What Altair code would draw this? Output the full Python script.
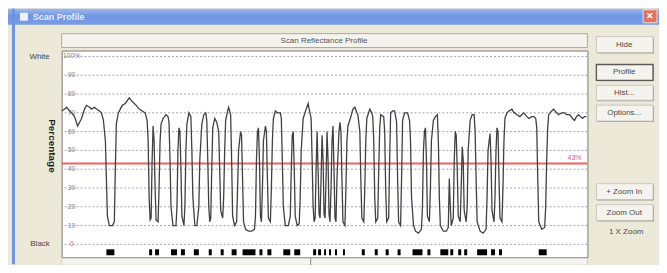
import altair as alt
import pandas as pd

# ---------------- data ----------------
# scan position (screen-pixel units of the original plot) and reflectance in %
pos = [62, 65, 67, 70, 72, 75, 78, 80, 82, 85, 87, 90, 92, 95, 97, 100, 102, 104, 106, 107, 108, 110, 113, 115, 116, 117,
       119, 121, 123, 126, 130, 133, 137, 140, 143, 146, 148, 149, 150, 151, 152, 153, 154, 155, 156, 157, 159, 160, 161,
       162, 164, 167, 169, 170, 171, 172, 174, 177, 178, 179, 180, 181, 182, 183, 185, 186, 187, 188, 190, 192, 193, 194,
       196, 198, 200, 201, 203, 205, 207, 208, 209, 210, 211, 212, 213, 214, 216, 218, 220, 221, 222, 224, 225, 226, 227,
       229, 230, 232, 233, 234, 236, 238, 239, 240, 242, 243, 244, 245, 247, 250, 253, 256, 257, 258, 259, 260, 261, 262,
       263, 264, 265, 267, 268, 269, 270, 272, 273, 274, 275, 277, 279, 282, 283, 284, 285, 287, 290, 292, 293, 294, 295,
       296, 297, 299, 301, 302, 303, 305, 308, 310, 311, 313, 314, 315, 316, 317, 318, 319, 320, 321, 322, 323, 324, 325,
       326, 327, 328, 329, 330, 331, 332, 333, 334, 335, 336, 337, 338, 339, 341, 342, 343, 344, 345, 347, 348, 349, 350,
       353, 355, 357, 359, 360, 362, 363, 364, 366, 367, 368, 369, 372, 374, 375, 376, 377, 378, 380, 381, 382, 383, 386,
       387, 388, 389, 391, 392, 393, 395, 397, 399, 400, 401, 403, 404, 405, 407, 410, 412, 413, 414, 416, 418, 421, 424,
       425, 426, 427, 428, 429, 430, 432, 433, 434, 436, 438, 440, 441, 442, 443, 446, 449, 451, 452, 453, 454, 456, 457,
       458, 459, 460, 461, 463, 464, 465, 466, 467, 469, 470, 471, 473, 475, 477, 478, 479, 480, 483, 486, 489, 490, 491,
       493, 494, 495, 497, 498, 499, 500, 501, 502, 503, 505, 506, 507, 508, 510, 512, 515, 517, 518, 520, 523, 525, 527,
       530, 532, 535, 537, 539, 540, 541, 542, 545, 548, 549, 550, 551, 552, 555, 557, 560, 562, 565, 568, 570, 573, 576,
       578, 580, 582, 584, 586, 588, 590]
refl = [71, 72, 73, 71, 70, 68, 63, 65, 67, 72, 74, 73, 72, 73, 72, 71, 70, 66, 55, 35, 15, 10, 10, 12, 40, 64,
        70, 72, 74, 75, 78, 76, 74, 72, 71, 70, 66, 55, 25, 13, 14, 45, 63, 55, 30, 13, 12, 30, 55,
        64, 67, 69, 68, 65, 45, 20, 10, 10, 20, 50, 62, 60, 40, 15, 10, 20, 50, 64, 70, 68, 50, 25,
        10, 10, 20, 45, 64, 69, 70, 66, 45, 20, 12, 14, 40, 62, 67, 65, 60, 40, 18, 14, 25, 50, 66,
        71, 73, 69, 45, 15, 10, 12, 30, 50, 60, 58, 35, 12, 8, 7, 7, 8, 15, 45, 60, 62, 45, 15,
        12, 30, 55, 63, 60, 35, 14, 12, 30, 55, 67, 71, 70, 70, 67, 45, 20, 10, 10, 15, 40, 58, 60,
        40, 15, 10, 11, 25, 50, 67, 72, 75, 72, 67, 45, 20, 12, 14, 40, 60, 40, 16, 14, 35, 58, 45,
        16, 14, 35, 60, 45, 16, 12, 30, 55, 63, 40, 14, 12, 35, 60, 65, 60, 35, 12, 10, 30, 55, 63,
        68, 72, 73, 70, 69, 60, 35, 14, 12, 30, 55, 67, 72, 70, 68, 55, 25, 12, 14, 40, 62, 69, 68,
        60, 30, 12, 14, 45, 70, 71, 71, 65, 35, 12, 10, 35, 66, 70, 70, 66, 55, 25, 10, 7, 6, 8,
        20, 50, 60, 62, 45, 15, 12, 30, 55, 66, 68, 69, 55, 25, 10, 7, 7, 9, 35, 20, 10, 14, 45,
        60, 58, 40, 15, 12, 30, 52, 45, 18, 12, 20, 50, 66, 69, 69, 60, 35, 12, 7, 6, 8, 25, 50,
        59, 45, 18, 12, 25, 50, 62, 60, 35, 14, 12, 30, 55, 67, 70, 71, 72, 70, 70, 69, 68, 69, 70,
        68, 67, 68, 68, 67, 62, 35, 12, 8, 9, 20, 45, 62, 69, 71, 72, 70, 69, 70, 70, 69, 69, 67,
        66, 68, 69, 68, 67, 68, 68]

# decoded bar (dark element) spans shown under the profile
bar_start = [107, 150, 156, 172, 182, 195, 210, 222, 233, 244, 261, 269, 285, 296, 315, 320, 326, 331, 337, 345,
             364, 377, 388, 400, 415, 430, 443, 453, 461, 467, 480, 494, 502, 542]
bar_end = [115, 153, 160, 178, 186, 200, 213, 225, 238, 257, 264, 273, 292, 302, 318, 323, 328, 333, 339, 347,
           367, 380, 391, 403, 425, 433, 451, 456, 464, 470, 490, 498, 505, 550]

grid_values = [100, 90, 80, 70, 60, 50, 40, 30, 20, 10, 0]
grid_labels = ["100%", "90", "80", "70", "60", "50", "40", "30", "20", "10", "0"]
threshold = [43]
threshold_text = ["43%"]
button_labels = ["Hide", "Profile", "Hist...", "Options...", "+ Zoom In", "Zoom Out"]

# ---------------- layout ----------------
OX, OY = 62, 50          # screen position of the plot area
W, H = 529, 208
FONT = "Liberation Sans"

xs = alt.Scale(domain=[62, 591], nice=False, zero=False)
ys = alt.Scale(domain=[-6.88, 103.17], nice=False, zero=False)

one = pd.DataFrame({"k": [0]})


def box(x1, y1, x2, y2, **kw):
    return alt.Chart(one).mark_rect(**kw).encode(
        x=alt.value(x1 - OX), x2=alt.value(x2 - OX), y=alt.value(y1 - OY), y2=alt.value(y2 - OY))


def label(t, x, y, **kw):
    base = dict(font=FONT, fontSize=8, fill="#333333", align="center", baseline="middle")
    base.update(kw)
    return alt.Chart(one).mark_text(text=t, **base).encode(x=alt.value(x - OX), y=alt.value(y - OY))


layers = []
# window chrome
layers.append(box(8, 8, 663, 24, fill=alt.Gradient(gradient="linear", x1=0, x2=0, y1=0, y2=1,
                                                    stops=[alt.GradientStop(color="#9DB8EE", offset=0),
                                                           alt.GradientStop(color="#6F95E4", offset=0.45),
                                                           alt.GradientStop(color="#7A9DE6", offset=1)])))
layers.append(box(12, 8, 15, 265, fill="#6D92E2"))
layers.append(box(647, 9, 661, 22, fill="#DE7460", stroke="#F4F4F4", strokeWidth=0.8))
layers.append(label("✕", 654, 15.5, fill="white", fontSize=9, fontWeight="bold"))
layers.append(box(20, 12, 28, 20, fill="#EEF2FA"))
layers.append(label("Scan Profile", 33, 16, fill="#E8EEFC", fontSize=9, fontWeight="bold", align="left"))

# header strip
layers.append(box(62, 33, 591, 47, fill="#F4F3EE", stroke="#A8A8A0", strokeWidth=1))
layers.append(label("Scan Reflectance Profile", 326, 40, fill="#555555"))

# buttons
btn_y = [(36, 52), (64, 80), (85, 100), (105, 121), (184, 200), (205, 221)]
for lab, (a, b) in zip(button_labels, btn_y):
    layers.append(box(601, a + 1, 658, b + 1, fill="#A4A49E"))
    stroke_w = 1.4 if lab == "Profile" else 0.8
    stroke_c = "#5A5A5A" if lab == "Profile" else "#BDBDB5"
    layers.append(box(600, a, 657, b, fill="#F4F3EE", stroke=stroke_c, strokeWidth=stroke_w))
    layers.append(label(lab, 628, (a + b) / 2, fill="#4A4A4A"))
layers.append(label("1 X Zoom", 630, 233, fill="#4A4A4A"))

# scrollbar under the plot
layers.append(box(62, 259, 591, 266, fill="#F4F3EE", stroke="#C8C8C0", strokeWidth=0.8))
layers.append(box(312, 259, 313, 266, fill="#909090"))

# left axis texts
layers.append(label("White", 50, 57, align="right", fill="#454545"))
layers.append(label("Black", 50, 245, align="right", fill="#454545"))
layers.append(label("Percentage", 52, 146, angle=90, fontSize=10, fontWeight="bold", fill="#202020"))

# grid
gdf = pd.DataFrame({"v": grid_values, "lab": grid_labels})
layers.append(alt.Chart(gdf).mark_rule(strokeDash=[2, 2], color="#A0A0B8", strokeWidth=1).encode(
    y=alt.Y("v:Q", scale=ys, axis=None)))
layers.append(alt.Chart(gdf).mark_text(font=FONT, fontSize=7, color="#8A8A8A", baseline="middle").encode(
    y=alt.Y("v:Q", scale=ys, axis=None), x=alt.value(72 - OX), text="lab:N"))

# threshold
tdf = pd.DataFrame({"v": threshold, "lab": threshold_text})
layers.append(alt.Chart(tdf).mark_rule(color="#F06060", strokeWidth=2).encode(
    y=alt.Y("v:Q", scale=ys, axis=None)))
layers.append(alt.Chart(tdf).mark_text(font=FONT, fontSize=7, color="#E05090", baseline="bottom", dy=-3).encode(
    y=alt.Y("v:Q", scale=ys, axis=None), x=alt.value(578 - OX), text="lab:N"))

# profile
pdf = pd.DataFrame({"pos": pos, "refl": refl})
layers.append(alt.Chart(pdf).mark_line(color="#404040", strokeWidth=1.3).encode(
    x=alt.X("pos:Q", scale=xs, axis=None), y=alt.Y("refl:Q", scale=ys, axis=None)))

# bars
bdf = pd.DataFrame({"s": bar_start, "e": bar_end})
layers.append(alt.Chart(bdf).mark_rect(color="#000000").encode(
    x=alt.X("s:Q", scale=xs, axis=None), x2="e:Q", y=alt.value(250 - OY), y2=alt.value(256 - OY)))

chart = alt.layer(*layers).properties(
    width=W, height=H,
    background="#ECE9D8",
    padding={"left": OX - 8, "top": OY - 8, "right": 655 - (OX - 8) - W, "bottom": 257 - (OY - 8) - H},
    autosize=alt.AutoSizeParams(type="none"),
).configure_view(fill="white", stroke="#7A7A7A", strokeWidth=1)

chart.save("out.html", embed_options={"renderer": "svg", "actions": False})
